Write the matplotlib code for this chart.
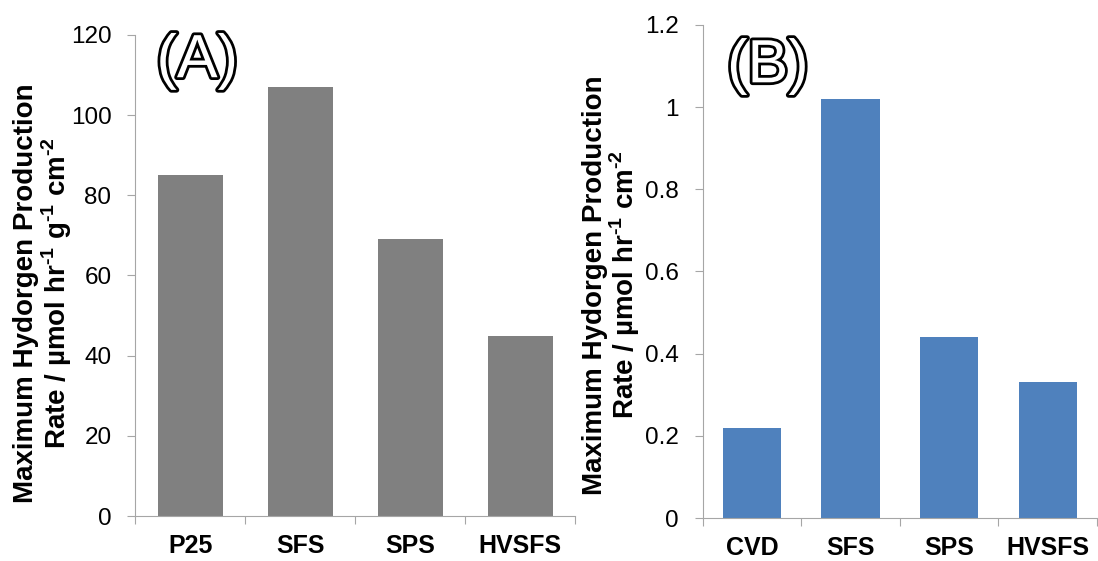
import matplotlib.pyplot as plt
import matplotlib.patheffects as pe
import numpy as np

plt.rcParams['font.family'] = ['Liberation Sans', 'DejaVu Sans']
plt.rcParams['mathtext.fontset'] = 'custom'
plt.rcParams['mathtext.bf'] = 'Liberation Sans:bold'
plt.rcParams['mathtext.rm'] = 'Liberation Sans'

# panel A data
cats_a = ['P25', 'SFS', 'SPS', 'HVSFS']
rate_a = [85, 107, 69, 45]
# panel B data
cats_b = ['CVD', 'SFS', 'SPS', 'HVSFS']
rate_b = [0.22, 1.02, 0.44, 0.33]

ylabel_a = 'Maximum Hydorgen Production\nRate / µmol hr$^{\\mathbf{‐1}}$ g$^{\\mathbf{‐1}}$ cm$^{\\mathbf{‐2}}$'
ylabel_b = 'Maximum Hydorgen Production\nRate / µmol hr$^{\\mathbf{‐1}}$ cm$^{\\mathbf{‐2}}$'

fig = plt.figure(figsize=(10.98, 5.61), dpi=100)
ax_a = fig.add_axes([0.123, 0.080, 0.401, 0.858])
ax_b = fig.add_axes([0.640, 0.0766, 0.359, 0.879])

spine_col = '#A6A6A6'


def style(ax, cats, vals, color, ylim, ystep, ylabel, tag, tag_xy, lab_xy):
    x = np.arange(len(cats))
    ax.bar(x, vals, width=0.59, color=color)
    ax.set_xlim(-0.5, len(cats) - 0.5)
    ax.set_ylim(0, ylim)
    yt = np.arange(0, ylim + ystep / 2, ystep)
    ax.set_yticks(yt)
    ax.set_yticklabels(['%g' % round(v, 2) for v in yt])
    ax.set_xticks(np.arange(-0.5, len(cats), 1.0))
    ax.set_xticklabels([])
    ax.set_xticks(x, minor=True)
    ax.set_xticklabels(cats, minor=True, fontsize=18, fontweight='bold')
    ax.tick_params(axis='x', which='minor', length=0, pad=13)
    ax.tick_params(axis='x', which='major', length=6, color=spine_col, direction='out')
    ax.tick_params(axis='y', length=6, color=spine_col, labelsize=17.5, pad=11)
    for s in ['top', 'right']:
        ax.spines[s].set_visible(False)
    for s in ['left', 'bottom']:
        ax.spines[s].set_color(spine_col)
    ax.set_ylabel(ylabel, fontsize=20, fontweight='bold', linespacing=1.0)
    ax.yaxis.set_label_coords(*lab_xy)
    t = ax.text(tag_xy[0], tag_xy[1], tag, transform=ax.transAxes, fontsize=44,
                color='white', ha='center', va='center')
    t.set_path_effects([pe.Stroke(linewidth=4, foreground='black'), pe.Normal()])


style(ax_a, cats_a, rate_a, '#808080', 120, 20, ylabel_a, '(A)', (0.141, 0.944), (-0.139, 0.464))
style(ax_b, cats_b, rate_b, '#4F81BD', 1.2, 0.2, ylabel_b, '(B)', (0.165, 0.915), (-0.153, 0.473))

fig.savefig('out.png', dpi=100)
